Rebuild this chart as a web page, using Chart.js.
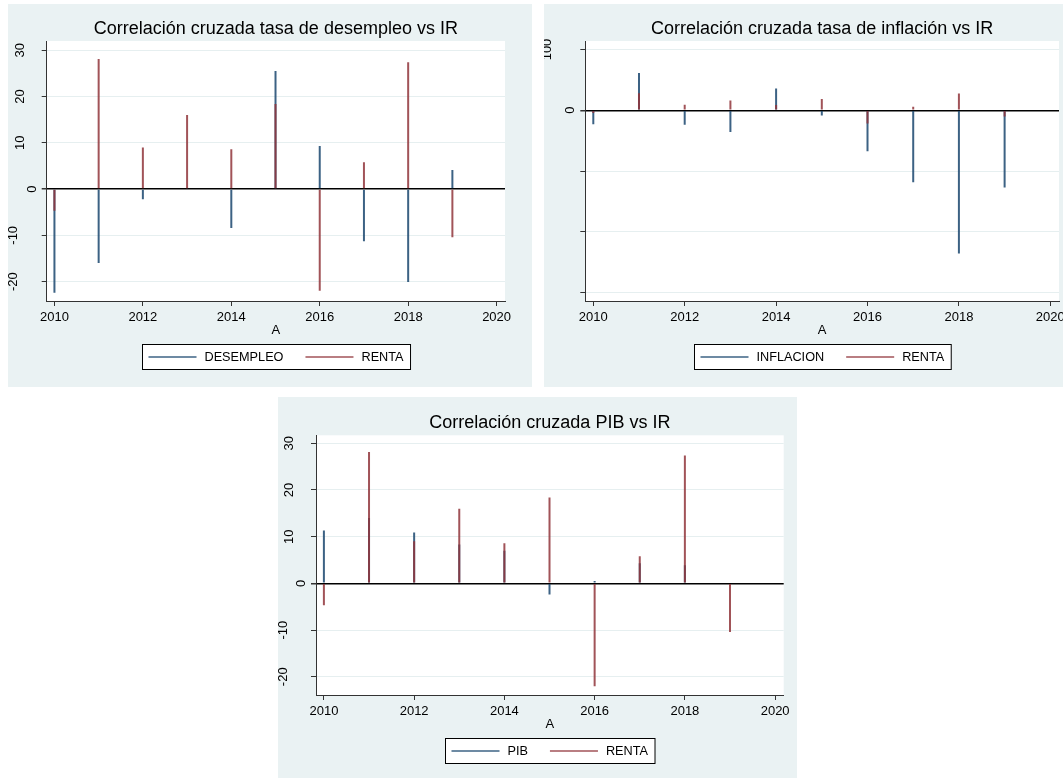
<!DOCTYPE html>
<html>
<head>
<meta charset="utf-8">
<script src="https://cdn.jsdelivr.net/npm/chart.js@4.4.1/dist/chart.umd.min.js"></script>
<style>
  body { margin: 0; background: #fff; width: 1063px; height: 778px; overflow: hidden; position: relative; }
  .panel { position: absolute; background: #eaf2f3; }
  .panel canvas { display: block; }
</style>
</head>
<body>
<div class="panel" style="left:8px;top:4px;width:524px;height:383px"><canvas id="c1" width="524" height="383"></canvas></div>
<div class="panel" style="left:544px;top:4px;width:519px;height:383px"><canvas id="c2" width="519" height="383"></canvas></div>
<div class="panel" style="left:278px;top:397px;width:519px;height:381px"><canvas id="c3" width="519" height="381"></canvas></div>
<script>
// datos
const anios = [2010, 2011, 2012, 2013, 2014, 2015, 2016, 2017, 2018, 2019];
const renta = [-4.7, 28.1, 9.0, 16.0, 8.6, 18.4, -22.0, 5.8, 27.4, -10.4];
const desempleo = [-22.4, -16.0, -2.2, 0, -8.4, 25.5, 9.3, -11.3, -20.1, 4.1];
const inflacion = [-23, 61.5, -24, -36, 35.7, -8.8, -67.6, -118.7, -236, -127];
const pib = [11.3, 14.0, 10.9, 8.3, 7.0, -2.4, 0.5, 4.3, 3.9, 0];

const ticksX = [2010, 2012, 2014, 2016, 2018, 2020];
const ticksY1 = [-20, -10, 0, 10, 20, 30];
const etiquetasY1 = ['-20', '-10', '0', '10', '20', '30'];
const ticksY2 = [-300, -200, -100, 0, 100];
const etiquetasY2 = ['', '', '', '0', '100'];
const ticksY3 = [-20, -10, 0, 10, 20, 30];
const etiquetasY3 = ['-20', '-10', '0', '10', '20', '30'];

const FUENTE = '"Liberation Sans", Arial, sans-serif';
const AZUL = 'rgba(26, 71, 111, 0.85)';
const ROJO = 'rgba(144, 53, 59, 0.85)';

Chart.defaults.font.family = FUENTE;
Chart.defaults.color = '#000';

function crearPanel(id, cfg) {
  const ctx = document.getElementById(id).getContext('2d');

  // fondo blanco del area de trazado
  const fondoBlanco = {
    id: 'fondoBlanco',
    beforeDraw(chart) {
      const { ctx, chartArea: a } = chart;
      ctx.save();
      ctx.fillStyle = '#fff';
      ctx.fillRect(a.left, a.top, a.right - a.left, a.bottom - a.top);
      ctx.restore();
    }
  };

  // etiquetas verticales del eje y, como en Stata
  const etiquetasVerticales = {
    id: 'etiquetasVerticales',
    afterDraw(chart) {
      const { ctx, chartArea, scales } = chart;
      ctx.save();
      ctx.font = '13px ' + FUENTE;
      ctx.fillStyle = '#000';
      ctx.textAlign = 'center';
      ctx.textBaseline = 'middle';
      cfg.ticksY.forEach((v, i) => {
        const t = cfg.etiquetasY[i];
        if (!t) return;
        const w = ctx.measureText(t).width;
        const px = chartArea.left - 3 - 1.6 * w;
        const py = scales.y.getPixelForValue(v);
        ctx.save();
        ctx.translate(px, py);
        ctx.rotate(-Math.PI / 2);
        ctx.fillText(t, 0, 0);
        ctx.restore();
      });
      ctx.restore();
    }
  };

  // leyenda con marco
  const leyenda = {
    id: 'leyendaMarco',
    afterDraw(chart) {
      const { ctx, chartArea } = chart;
      ctx.save();
      ctx.font = '12.7px ' + FUENTE;
      const w1 = ctx.measureText(cfg.nombres[0]).width;
      const w2 = ctx.measureText(cfg.nombres[1]).width;
      const total = 6 + 48 + 8 + w1 + 22 + 48 + 8 + w2 + 7;
      const cx = (chartArea.left + chartArea.right) / 2;
      const x0 = Math.round(cx - total / 2) + 0.5;
      const top = Math.round(chartArea.bottom + 43.3) + 0.5;
      const h = 25;
      ctx.fillStyle = '#fff';
      ctx.fillRect(x0, top, total, h);
      ctx.strokeStyle = '#000';
      ctx.lineWidth = 1;
      ctx.strokeRect(x0, top, total, h);
      const yc = top + h / 2;
      ctx.lineWidth = 1.5;
      ctx.strokeStyle = AZUL;
      ctx.beginPath(); ctx.moveTo(x0 + 6, yc); ctx.lineTo(x0 + 54, yc); ctx.stroke();
      const x2 = x0 + 62 + w1 + 22;
      ctx.strokeStyle = ROJO;
      ctx.beginPath(); ctx.moveTo(x2, yc); ctx.lineTo(x2 + 48, yc); ctx.stroke();
      ctx.fillStyle = '#000';
      ctx.textAlign = 'left';
      ctx.textBaseline = 'middle';
      ctx.fillText(cfg.nombres[0], x0 + 62, yc + 0.5);
      ctx.fillText(cfg.nombres[1], x2 + 56, yc + 0.5);
      ctx.restore();
    }
  };

  return new Chart(ctx, {
    type: 'bar',
    data: {
      datasets: [
        {
          label: cfg.nombres[0],
          data: anios.map((a, i) => ({ x: a, y: cfg.serie[i] })),
          backgroundColor: AZUL,
          order: 2
        },
        {
          label: cfg.nombres[1],
          data: anios.map((a, i) => ({ x: a, y: renta[i] })),
          backgroundColor: ROJO,
          order: 1
        }
      ]
    },
    options: {
      responsive: false,
      animation: false,
      datasets: {
        bar: { barThickness: 2, grouped: false, borderWidth: 0, inflateAmount: 0 }
      },
      layout: { padding: { left: 0, top: 0, right: cfg.derecha, bottom: cfg.abajo } },
      plugins: {
        legend: { display: false },
        tooltip: { enabled: false },
        title: {
          display: true,
          text: cfg.titulo,
          fullSize: false,
          color: '#000',
          font: { size: 18, weight: 'normal', family: FUENTE },
          padding: { top: cfg.tituloArriba, bottom: cfg.tituloAbajo }
        }
      },
      scales: {
        x: {
          type: 'linear',
          offset: false,
          min: 2009.825,
          max: 2020.19,
          afterBuildTicks: s => { s.ticks = ticksX.map(v => ({ value: v })); },
          afterFit: s => { s.height = 40; s.paddingLeft = 0; s.paddingRight = 0; },
          ticks: {
            autoSkip: false,
            maxRotation: 0,
            padding: 4,
            color: '#000',
            font: { size: 13 },
            callback: v => String(v)
          },
          grid: { offset: false, drawOnChartArea: false, tickLength: 5, tickColor: '#333' },
          border: { color: '#333', width: 1 },
          title: {
            display: true,
            text: 'A',
            color: '#000',
            font: { size: 13 },
            padding: { top: 0, bottom: 3 }
          }
        },
        y: {
          type: 'linear',
          min: cfg.minY,
          max: cfg.maxY,
          afterBuildTicks: s => { s.ticks = cfg.ticksY.map(v => ({ value: v })); },
          afterFit: s => { s.width = cfg.anchoY; s.paddingTop = 0; s.paddingBottom = 0; },
          ticks: { display: false },
          grid: {
            color: c => (c.tick && c.tick.value === 0 ? '#000' : '#e6eff0'),
            lineWidth: c => (c.tick && c.tick.value === 0 ? 1.5 : 1),
            tickLength: 5,
            tickColor: '#333'
          },
          border: { color: '#333', width: 1 }
        }
      }
    },
    plugins: [fondoBlanco, etiquetasVerticales, leyenda]
  });
}

crearPanel('c1', {
  titulo: 'Correlación cruzada tasa de desempleo vs IR',
  nombres: ['DESEMPLEO', 'RENTA'],
  serie: desempleo,
  ticksY: ticksY1, etiquetasY: etiquetasY1,
  minY: -24.2, maxY: 32.0,
  anchoY: 38.7, derecha: 27, abajo: 46,
  tituloArriba: 14.5, tituloAbajo: 0.9
});

crearPanel('c2', {
  titulo: 'Correlación cruzada tasa de inflación vs IR',
  nombres: ['INFLACION', 'RENTA'],
  serie: inflacion,
  ticksY: ticksY2, etiquetasY: etiquetasY2,
  minY: -314, maxY: 114,
  anchoY: 41.3, derecha: 4, abajo: 46,
  tituloArriba: 14.5, tituloAbajo: 0.9
});

crearPanel('c3', {
  titulo: 'Correlación cruzada PIB vs IR',
  nombres: ['PIB', 'RENTA'],
  serie: pib,
  ticksY: ticksY3, etiquetasY: etiquetasY3,
  minY: -23.9, maxY: 31.7,
  anchoY: 38, derecha: 13.3, abajo: 43,
  tituloArriba: 14.9, tituloAbajo: 1.8
});
</script>
</body>
</html>
